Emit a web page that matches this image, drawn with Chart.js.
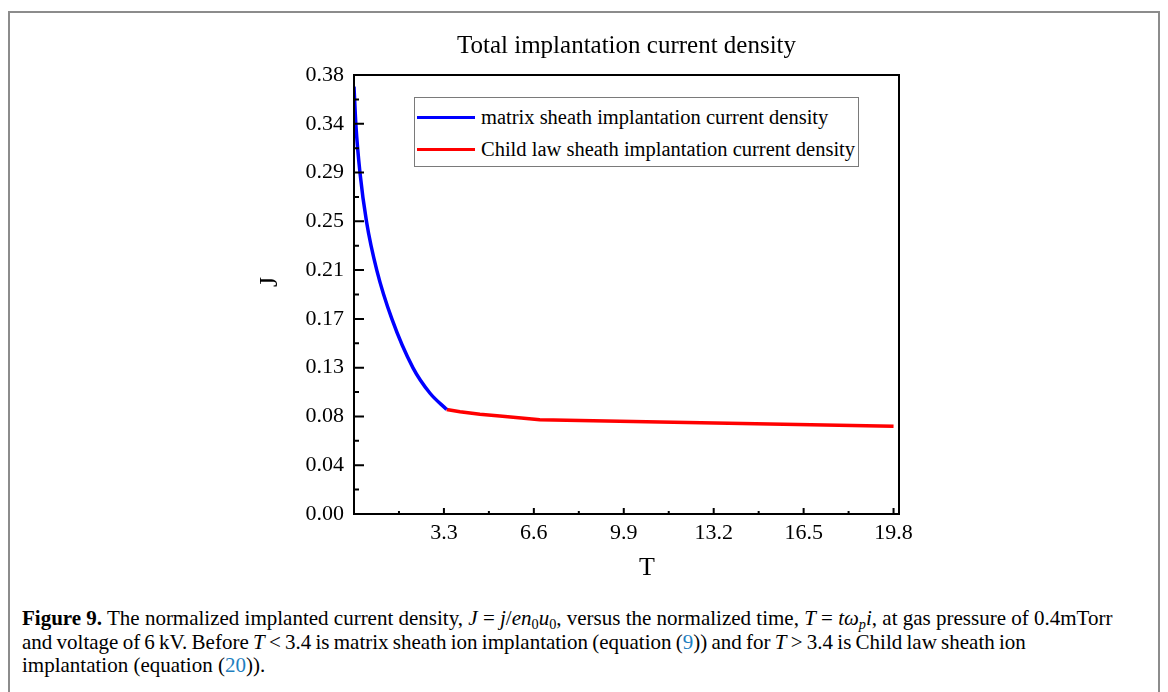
<!DOCTYPE html>
<html>
<head>
<meta charset="utf-8">
<script src="https://cdn.jsdelivr.net/npm/chart.js@4.4.0/dist/chart.umd.min.js"></script>
<style>
  html, body { margin: 0; padding: 0; background: #fff; width: 1168px; height: 692px; overflow: hidden; }
  #frame { position: absolute; left: 8px; top: 11px; width: 1152px; height: 720px; border: 2px solid #8c8c8c; box-sizing: border-box; }
  #chart { position: absolute; left: 0; top: 0; }
  #legend { position: absolute; left: 414px; top: 97px; width: 445px; height: 70px; border: 1px solid #7a7a7a; box-sizing: border-box;
            font-family: "Liberation Serif", serif; font-size: 20.5px; color: #000; background: #fff; }
  #legend .row { position: absolute; left: 2px; height: 24px; line-height: 24px; white-space: nowrap; }
  #legend .swatch { display: inline-block; width: 58px; height: 3.5px; vertical-align: middle; margin-right: 6px; position: relative; top: -2px; }
  #caption { position: absolute; left: 22px; top: 607px; font-family: "Liberation Serif", serif; font-size: 21px; color: #000;
             line-height: 23.5px; white-space: nowrap; }
  #caption sub { font-size: 0.68em; vertical-align: -0.3em; line-height: 0; }
  #caption .ref { color: #1f7fc0; }
</style>
</head>
<body>
<div id="frame"></div>
<canvas id="chart" width="1168" height="600"></canvas>
<div id="legend"></div>
<div id="caption">
  <div><b>Figure 9.</b> The normalized implanted current density, <i>J</i> = <i>j</i>/<i>en</i><sub>0</sub><i>u</i><sub>0</sub>, versus the normalized time, <i>T</i> = <i>tω<sub>p</sub>i</i>, at gas pressure of 0.4mTorr</div>
  <div style="word-spacing:-1px">and voltage of 6 kV. Before <i>T</i> &lt; 3.4 is matrix sheath ion implantation (equation (<span class="ref">9</span>)) and for <i>T</i> &gt; 3.4 is Child law sheath ion</div>
  <div>implantation (equation (<span class="ref">20</span>)).</div>
</div>
<script>
// matrix sheath (T < 3.4)
const matrixT = [0, 0.07, 0.22, 0.46, 0.84, 1.39, 2.16, 2.79, 3.4];
const matrixJ = [0.367, 0.334, 0.293, 0.251, 0.209, 0.1675, 0.1257, 0.1037, 0.0898];
// child law sheath (T > 3.4)
const childT = [3.4, 3.89, 4.62, 5.35, 6.82, 11.22, 15.25, 19.8];
const childJ = [0.0898, 0.0879, 0.0856, 0.0842, 0.0810, 0.0790, 0.0773, 0.0753];

const seriesNames = ['matrix sheath implantation current density', 'Child law sheath implantation current density'];
const seriesColors = ['#0000ff', '#ff0000'];

const xTickLabels = ['3.3', '6.6', '9.9', '13.2', '16.5', '19.8'];
const yTickLabels = ['0.00', '0.04', '0.08', '0.13', '0.17', '0.21', '0.25', '0.29', '0.34', '0.38'];
const xMax = 20;
const yMax = 0.377;

const xMajor = xTickLabels.map(Number);
const xMinor = xMajor.map(v => v - 1.65);
const yMajor = yTickLabels.map((t, i) => i * yMax / (yTickLabels.length - 1));
const yMinor = yMajor.slice(1).map(v => v - yMax / (yTickLabels.length - 1) / 2);

const serif = '"Liberation Serif", "Times New Roman", serif';

// frame, inward ticks, axis titles
const axisDecor = {
  id: 'axisDecor',
  afterDraw(chart) {
    const { ctx, chartArea: a, scales: { x, y } } = chart;
    ctx.save();
    ctx.strokeStyle = '#000';
    ctx.lineWidth = 2;
    ctx.strokeRect(a.left, a.top, a.right - a.left, a.bottom - a.top);
    ctx.beginPath();
    yMajor.forEach(v => { const p = y.getPixelForValue(v); ctx.moveTo(a.left, p); ctx.lineTo(a.left + 10, p); });
    yMinor.forEach(v => { const p = y.getPixelForValue(v); ctx.moveTo(a.left, p); ctx.lineTo(a.left + 5, p); });
    xMajor.forEach(v => { const p = x.getPixelForValue(v); ctx.moveTo(p, a.bottom); ctx.lineTo(p, a.bottom - 6); });
    xMinor.forEach(v => { const p = x.getPixelForValue(v); ctx.moveTo(p, a.bottom); ctx.lineTo(p, a.bottom - 3); });
    ctx.stroke();

    ctx.fillStyle = '#000';
    ctx.font = '26px ' + serif;
    ctx.textAlign = 'center';
    ctx.textBaseline = 'alphabetic';
    ctx.fillText('T', a.left + 293, a.bottom + 61);
    ctx.translate(a.left - 77, a.top + 207);
    ctx.rotate(-Math.PI / 2);
    ctx.fillText('J', 0, 0);
    ctx.restore();
  }
};

const chart = new Chart(document.getElementById('chart'), {
  type: 'line',
  data: {
    datasets: [
      {
        label: seriesNames[0],
        data: matrixT.map((t, i) => ({ x: t, y: matrixJ[i] })),
        borderColor: seriesColors[0],
        borderWidth: 3.5,
        pointRadius: 0,
        cubicInterpolationMode: 'monotone'
      },
      {
        label: seriesNames[1],
        data: childT.map((t, i) => ({ x: t, y: childJ[i] })),
        borderColor: seriesColors[1],
        borderWidth: 3.5,
        pointRadius: 0,
        tension: 0
      }
    ]
  },
  options: {
    responsive: false,
    animation: false,
    devicePixelRatio: 1,
    layout: { padding: { left: 240, right: 269, top: 0, bottom: 0 } },
    plugins: {
      legend: { display: false },
      tooltip: { enabled: false },
      title: {
        display: true,
        fullSize: false,
        text: 'Total implantation current density',
        color: '#000',
        font: { family: serif, size: 25, weight: 'normal', lineHeight: 1.2 },
        padding: { top: 31, bottom: 14 }
      }
    },
    scales: {
      x: {
        type: 'linear',
        min: 0,
        max: xMax,
        grid: { display: false, drawTicks: false },
        border: { display: false },
        afterBuildTicks: s => { s.ticks = xMajor.map(v => ({ value: v })); },
        afterFit: s => { s.height = 86; },
        ticks: {
          padding: 6,
          color: '#000',
          font: { family: serif, size: 22 },
          maxRotation: 0,
          autoSkip: false,
          callback: (v, i) => xTickLabels[i]
        }
      },
      y: {
        type: 'linear',
        min: 0,
        max: yMax,
        grid: { display: false, drawTicks: false },
        border: { display: false },
        afterBuildTicks: s => { s.ticks = yMajor.map(v => ({ value: v })); },
        afterFit: s => { s.width = 114; },
        ticks: {
          padding: 10,
          color: '#000',
          font: { family: serif, size: 22 },
          autoSkip: false,
          callback: (v, i) => yTickLabels[i]
        }
      }
    }
  },
  plugins: [axisDecor]
});

// legend inside the plot box
const legend = document.getElementById('legend');
seriesNames.forEach((name, i) => {
  const row = document.createElement('div');
  row.className = 'row';
  row.style.top = (7 + i * 32) + 'px';
  const sw = document.createElement('span');
  sw.className = 'swatch';
  sw.style.background = seriesColors[i];
  row.appendChild(sw);
  row.appendChild(document.createTextNode(name));
  legend.appendChild(row);
});
</script>
</body>
</html>
